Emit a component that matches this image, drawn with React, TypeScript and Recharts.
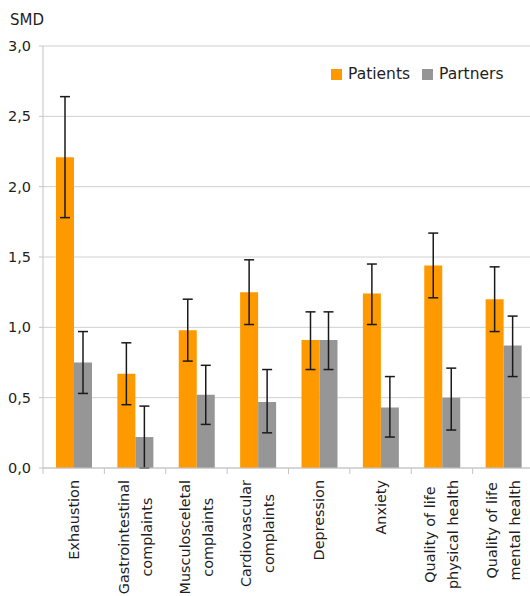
import { Bar, BarChart, CartesianGrid, ErrorBar, XAxis, YAxis } from "recharts";

const categories = [
  ["Exhaustion"],
  ["Gastrointestinal", "complaints"],
  ["Musculosceletal", "complaints"],
  ["Cardiovascular", "complaints"],
  ["Depression"],
  ["Anxiety"],
  ["Quality of life", "physical health"],
  ["Quality of life", "mental health"],
];

const patients = [2.21, 0.67, 0.98, 1.25, 0.91, 1.24, 1.44, 1.2];
const patientsLow = [1.78, 0.45, 0.76, 1.02, 0.7, 1.02, 1.21, 0.97];
const patientsHigh = [2.64, 0.89, 1.2, 1.48, 1.11, 1.45, 1.67, 1.43];

const partners = [0.75, 0.22, 0.52, 0.47, 0.91, 0.43, 0.5, 0.87];
const partnersLow = [0.53, 0.0, 0.31, 0.25, 0.7, 0.22, 0.27, 0.65];
const partnersHigh = [0.97, 0.44, 0.73, 0.7, 1.11, 0.65, 0.71, 1.08];

const yTicks = [0, 0.5, 1, 1.5, 2, 2.5, 3];

const data = categories.map((lines, i) => ({
  name: lines.join(" "),
  lines,
  patients: patients[i],
  partners: partners[i],
  patientsErr: [patients[i] - patientsLow[i], patientsHigh[i] - patients[i]],
  partnersErr: [partners[i] - partnersLow[i], partnersHigh[i] - partners[i]],
}));

const FONT = "'DejaVu Sans', sans-serif";
const ORANGE = "#ff9900";
const GRAY = "#969696";
const AXIS = "#c4c4c4";
const TEXT = "#1e1e1e";
const LABEL_SIZE = 14.4;

const CHART_W = 545;
const CHART_H = 596;
const PLOT_LEFT = 43;
const PLOT_RIGHT = 11;
const BAND = (CHART_W - PLOT_LEFT - PLOT_RIGHT) / categories.length;

let ctx: CanvasRenderingContext2D | null = null;
function textWidth(s: string) {
  if (!ctx) ctx = document.createElement("canvas").getContext("2d");
  if (!ctx) return s.length * LABEL_SIZE * 0.55;
  ctx.font = `${LABEL_SIZE}px ${FONT}`;
  return ctx.measureText(s).width;
}

function CategoryTick(props: any) {
  const { x, y, payload } = props;
  const lines: string[] = data[payload.index]?.lines ?? [payload.value];
  const offsets = lines.length === 1 ? [0] : [-11.5, 11.5];
  const longest = Math.max(...lines.map(textWidth));
  return (
    <g>
      <line x1={x - BAND / 2} y1={y} x2={x - BAND / 2} y2={y + 6} stroke={AXIS} />
      <g transform={`translate(${x},${y + 12 + longest / 2}) rotate(-90)`}>
        {lines.map((t, i) => (
          <text
            key={i}
            x={0}
            y={offsets[i]}
            dy="0.35em"
            textAnchor="middle"
            fontSize={LABEL_SIZE}
            fontFamily={FONT}
            fill={TEXT}
          >
            {t}
          </text>
        ))}
      </g>
    </g>
  );
}

function LegendBox() {
  const items = [
    { name: "Patients", color: ORANGE },
    { name: "Partners", color: GRAY },
  ];
  return (
    <div
      style={{
        position: "absolute",
        left: 331,
        top: 65,
        display: "flex",
        alignItems: "center",
        fontFamily: FONT,
        fontSize: 15.5,
        color: TEXT,
        zIndex: 2,
      }}
    >
      {items.map((it) => (
        <div key={it.name} style={{ display: "flex", alignItems: "center", marginRight: 12 }}>
          <span style={{ width: 11, height: 11, background: it.color, display: "inline-block", marginRight: 6 }} />
          <span>{it.name}</span>
        </div>
      ))}
    </div>
  );
}

export default function App() {
  return (
    <div
      style={{
        position: "absolute",
        left: 0,
        top: 0,
        width: 530,
        height: 596,
        overflow: "hidden",
        background: "#fff",
      }}
    >
      <div
        style={{
          position: "absolute",
          left: 10,
          top: 11,
          fontFamily: FONT,
          fontSize: 15,
          color: TEXT,
          zIndex: 2,
        }}
      >
        SMD
      </div>
      <LegendBox />
      <BarChart
        width={CHART_W}
        height={CHART_H}
        data={data}
        margin={{ top: 46, right: PLOT_RIGHT, bottom: 0, left: 0 }}
        barGap={0}
        barSize={18}
      >
        <CartesianGrid vertical={false} stroke="#d0d0d0" />
        <XAxis
          dataKey="name"
          interval={0}
          height={128}
          tickSize={0}
          tickMargin={0}
          tickLine={false}
          axisLine={{ stroke: AXIS }}
          tick={<CategoryTick />}
        />
        <YAxis
          domain={[0, 3]}
          ticks={yTicks}
          width={PLOT_LEFT}
          tickFormatter={(v: number) => v.toFixed(1).replace(".", ",")}
          tickSize={4}
          tickMargin={8}
          axisLine={{ stroke: AXIS }}
          tickLine={{ stroke: AXIS }}
          tick={{ fontSize: 14.5, fontFamily: FONT, fill: TEXT }}
        />
        <Bar dataKey="patients" name="Patients" fill={ORANGE} isAnimationActive={false}>
          <ErrorBar dataKey="patientsErr" width={5} stroke="#1a1a1a" strokeWidth={1.5} />
        </Bar>
        <Bar dataKey="partners" name="Partners" fill={GRAY} isAnimationActive={false}>
          <ErrorBar dataKey="partnersErr" width={5} stroke="#1a1a1a" strokeWidth={1.5} />
        </Bar>
      </BarChart>
    </div>
  );
}
